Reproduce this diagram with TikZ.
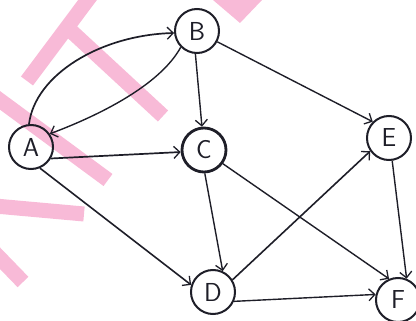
\documentclass[tikz,border=0pt]{standalone}
\usetikzlibrary{arrows.meta}
\definecolor{wm}{RGB}{248,186,215}
\definecolor{ink}{RGB}{30,30,40}
\begin{document}
\begin{tikzpicture}[x=1pt,y=-1pt,
  vtx/.style={circle, draw=ink, line width=2pt, minimum size=44pt, inner sep=0pt,
    text=ink, font=\sffamily\fontsize{26}{26}\selectfont},
  edge/.style={draw=ink, line width=1.4pt, -{Straight Barb[length=6pt,width=12pt,line width=1.3pt]}},
  wmk/.style={draw=wm, line width=15pt, line cap=butt}]
\useasboundingbox (0,0) rectangle (416,321);
% watermark stripes
\draw[wmk] (27,81) -- (95,-10);
\draw[wmk] (70,30) -- (163,116);
\draw[wmk] (-10,93) -- (108,180);
\draw[wmk] (-5,206) -- (84,214);
\draw[wmk] (-8,250) -- (23,282);
\fill[wm] (213,0) -- (240,23) -- (262,0) -- cycle;
% nodes
\node[vtx] (A) at (31,147) {A};
\node[vtx] (B) at (197,31) {B};
\node[vtx, line width=2.8pt] (C) at (204,150) {C};
\node[vtx] (D) at (213,292) {D};
\node[vtx] (E) at (389,138) {E};
\node[vtx] (F) at (398,300) {F};
% edges
\draw[edge, line width=1.7pt] (A.95) .. controls (35,75) and (100,35) .. (B.185);
\draw[edge] (B.225) .. controls (160,85) and (100,115) .. (A.35);
\draw[edge, line width=1.7pt] (A.-30) -- (C.185);
\draw[edge, line width=1.6pt] (A.-67) -- (D.162);
\draw[edge] (B.-94) -- (C.95);
\draw[edge] (B.-28) -- (E.135);
\draw[edge] (C.-88) -- (D.65);
\draw[edge] (C.-36) -- (F.113);
\draw[edge, line width=1.6pt] (D.32) -- (E.215);
\draw[edge] (D.-24) -- (F.166);
\draw[edge] (E.-82) -- (F.68);
\end{tikzpicture}
\end{document}
